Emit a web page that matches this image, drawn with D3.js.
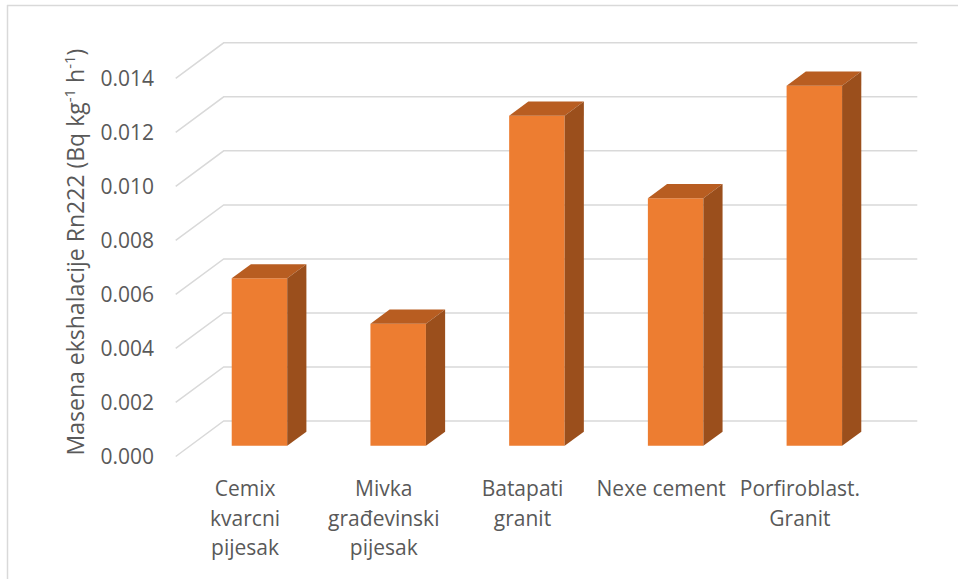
<!DOCTYPE html>
<html>
<head>
<meta charset="utf-8">
<script src="https://cdn.jsdelivr.net/npm/d3@7/dist/d3.min.js"></script>
<style>
  html, body { margin: 0; padding: 0; background: #fff; }
  svg { display: block; }
  text { font-family: "Open Sans", "Liberation Sans", sans-serif; fill: #595959; }
</style>
</head>
<body>
<svg id="chart" width="958" height="579"></svg>
<script>
// ---- data ----
const categories = ["Cemix kvarcni pijesak", "Mivka građevinski pijesak", "Batapati granit", "Nexe cement", "Porfiroblast. Granit"];
const categoryLines = [["Cemix", "kvarcni", "pijesak"], ["Mivka", "građevinski", "pijesak"], ["Batapati", "granit"], ["Nexe cement"], ["Porfiroblast.", "Granit"]];
const values = [0.0062, 0.00452, 0.01222, 0.00917, 0.01333];
const yTicks = [0, 0.002, 0.004, 0.006, 0.008, 0.010, 0.012, 0.014];
const yTickLabels = ["0.000", "0.002", "0.004", "0.006", "0.008", "0.010", "0.012", "0.014"];

// ---- layout ----
const svg = d3.select("#chart");
const X0 = 175.7, X1 = 869.3;      // front floor edge
const DX = 48, DY = -35.5;          // depth vector (front -> back wall)
const T0 = 0.3, T1 = 0.7;           // bar depth range

const x = d3.scaleBand().domain(categories).range([X0, X1]).paddingInner(0.6).paddingOuter(0.3);
const xc = d3.scaleBand().domain(categories).range([X0, X1]);
const y = d3.scaleLinear().domain([0, 0.014]).range([456.5, 78.3]);

const px = (xv, t) => xv + DX * t;
const py = (v, t) => y(v) + DY * t;

// chart border (cropped: left + top visible)
svg.append("line").attr("x1", 7.5).attr("x2", 7.5).attr("y1", 5).attr("y2", 579)
  .attr("stroke", "#D9D9D9").attr("stroke-width", 1.5);
svg.append("line").attr("x1", 7).attr("x2", 958).attr("y1", 5.5).attr("y2", 5.5)
  .attr("stroke", "#D9D9D9").attr("stroke-width", 1.5);

// gridlines: side wall diagonals + back wall horizontals
const grid = svg.append("g").attr("stroke", "#D9D9D9").attr("stroke-width", 1.5).attr("fill", "none");
yTicks.forEach(v => {
  grid.append("path").attr("d", d3.line()([
    [px(X0, 0), py(v, 0)],
    [px(X0, 1), py(v, 1)],
    [px(X1, 1), py(v, 1)]
  ]));
});

// y tick labels
svg.append("g").selectAll("text").data(yTicks).join("text")
  .attr("x", 154).attr("y", d => y(d) + 7.8)
  .attr("text-anchor", "end").attr("font-size", 21)
  .text((d, i) => yTickLabels[i]);

// bars
const bars = svg.append("g");
categories.forEach((c, i) => {
  const v = values[i];
  const xl = x(c), xr = x(c) + x.bandwidth();
  const g = bars.append("g");
  // front face
  g.append("path").attr("fill", "#ED7D31").attr("d", d3.line()([
    [px(xl, T0), py(v, T0)], [px(xr, T0), py(v, T0)],
    [px(xr, T0), py(0, T0)], [px(xl, T0), py(0, T0)]
  ]) + "Z");
  // top face
  g.append("path").attr("fill", "#B85D21").attr("d", d3.line()([
    [px(xl, T0), py(v, T0)], [px(xr, T0), py(v, T0)],
    [px(xr, T1), py(v, T1)], [px(xl, T1), py(v, T1)]
  ]) + "Z");
  // right side face
  g.append("path").attr("fill", "#9B4F1C").attr("d", d3.line()([
    [px(xr, T0), py(v, T0)], [px(xr, T1), py(v, T1)],
    [px(xr, T1), py(0, T1)], [px(xr, T0), py(0, T0)]
  ]) + "Z");
});

// x category labels
const xl = svg.append("g");
categories.forEach((c, i) => {
  const t = xl.append("text").attr("text-anchor", "middle").attr("font-size", 21)
    .attr("x", xc(c) + xc.bandwidth() / 2);
  categoryLines[i].forEach((ln, j) => {
    t.append("tspan").attr("x", xc(c) + xc.bandwidth() / 2).attr("y", 496 + j * 29.5).text(ln);
  });
});

// y axis title
const title = svg.append("text")
  .attr("transform", "translate(84,252) rotate(-90)")
  .attr("text-anchor", "middle").attr("font-size", 23);
title.append("tspan").text("Masena ekshalacije Rn222 (Bq kg");
title.append("tspan").attr("font-size", 15).attr("dy", -9).text("-1");
title.append("tspan").attr("dy", 9).text(" h");
title.append("tspan").attr("font-size", 15).attr("dy", -9).text("-1");
title.append("tspan").attr("dy", 9).text(")");
</script>
</body>
</html>
